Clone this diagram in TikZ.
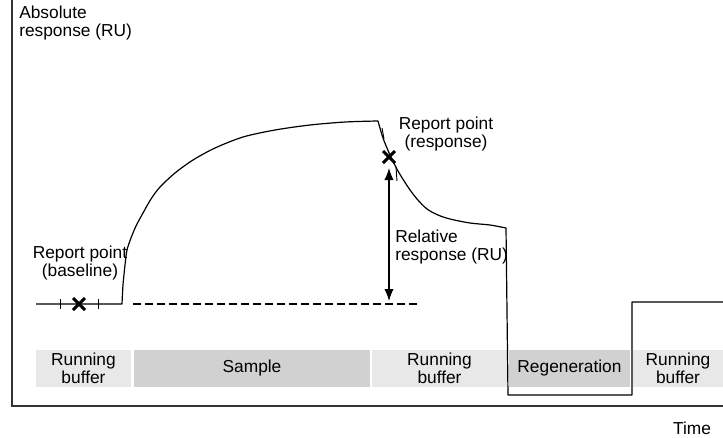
\documentclass[tikz,border=0pt]{standalone}
\usepackage{fontspec}
\setmainfont{Liberation Sans}
\usetikzlibrary{arrows.meta}
\usetikzlibrary{positioning}
\newdimen\px
\px=0.75pt

\begin{document}
\begin{tikzpicture}
	[
		x = 0.75pt, y = -0.75pt,
		font = \fontsize{13}{13.5}\selectfont,
		axis/.style = {line width = 1.4pt, draw = black!80},
		sensorgram/.style = {line width = 0.9pt, line join = round},
		crossmark/.style = {line width = 2.2pt},
		tickmark/.style = {line width = 0.7pt},
		bar/.style = {rectangle, inner sep = 0pt, minimum height = 37\px, align = center},
		lightbar/.style = {bar, fill = black!9},
		darkbar/.style = {bar, fill = black!18},
		txt/.style = {inner sep = 0pt, align = center},
	]
	\useasboundingbox (0,0) rectangle (723,437);

	% phases
	\node (bufA) [lightbar, minimum width = 95\px] at (83.5,368.5) {Running\\buffer};
	\node (sample) [darkbar, minimum width = 236\px] at (252,368.5) {Sample};
	\node (bufB) [lightbar, minimum width = 135\px] at (439.5,368.5) {Running\\buffer};
	\node (regen) [darkbar, minimum width = 121\px] at (569.5,368.5) {Regeneration};
	\node (bufC) [lightbar, minimum width = 90\px] at (678,368.5) {Running\\buffer};

	% axes
	\coordinate (ytop) at (12,0);
	\coordinate (origin) at (12,406);
	\coordinate (xend) at (723,406);
	\draw[axis] (ytop) -- (origin) -- (xend);
	\node (ylab) [txt, align = left, anchor = west] at (19,23) {Absolute\\response (RU)};
	\node (time) [txt] at (692,428) {Time};

	% curve
	\draw[sensorgram] (36,304) -- (122,304)
		-- plot[smooth] coordinates {(122,304) (123,285) (125,265) (127,250) (131,238) (136,226) (143,213) (151,199) (160,187) (175,173) (193,160) (215,148) (243,137) (275,130) (310,125) (345,122) (377,121)}
		-- plot[smooth] coordinates {(378,121) (383,138) (390,155) (398,171) (408,187) (417,199) (427,209) (438,215) (450,219) (470,223) (490,225) (506,228)}
		-- (508,395) -- (632,395) -- (632,302) -- (723,302);

	% baseline report point
	\coordinate (baseX) at (79,304);
	\draw[tickmark] (60,299) -- (60,309);
	\draw[tickmark] (98,299) -- (98,309);
	\draw[crossmark] ([shift = {(-6,-6)}]baseX) -- ([shift = {(6,6)}]baseX);
	\draw[crossmark] ([shift = {(-6,6)}]baseX) -- ([shift = {(6,-6)}]baseX);
	\node (basept) [txt] at (80,263) {Report point\\(baseline)};
	\draw[dashed, dash pattern = on 6pt off 3pt, line width = 0.8pt] (133,304) -- (420,304);

	% response report point
	\coordinate (respX) at (389,157);
	\draw[tickmark] (382,128) -- (384,139);
	\draw[tickmark] (396,167) -- (397,181);
	\draw[crossmark] ([shift = {(-6,-6)}]respX) -- ([shift = {(6,6)}]respX);
	\draw[crossmark] ([shift = {(-6,6)}]respX) -- ([shift = {(6,-6)}]respX);
	\node (resppt) [txt] at (446,134) {Report point\\(response)};

	% relative response
	\coordinate (rtop) at (389,168);
	\coordinate (rbot) at (389,301);
	\draw[line width = 0.9pt, {Latex[length = 9pt, width = 7pt]}-{Latex[length = 9pt, width = 7pt]}] (rtop) -- (rbot);
	\node (rellab) [txt, align = left, anchor = west] at (395,247) {Relative\\response (RU)};
\end{tikzpicture}
\end{document}
